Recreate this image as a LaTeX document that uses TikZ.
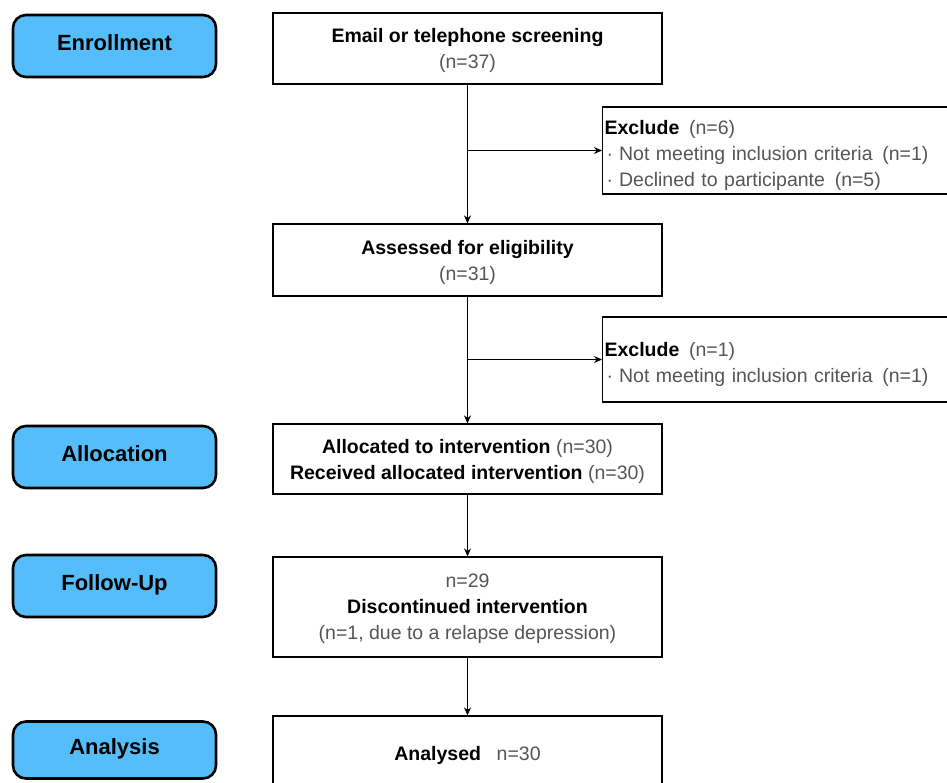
\documentclass[tikz,border=0pt]{standalone}
\usepackage{fontspec}
\setmainfont{Liberation Sans}
\usetikzlibrary{arrows.meta}
\definecolor{stageblue}{RGB}{85,190,250}
\definecolor{ngray}{RGB}{85,85,85}
\newcommand{\nval}[1]{{\color{ngray}\mdseries #1}}
\newcommand{\bul}{\hspace{2pt}·\hspace{6pt}}
\newcommand{\topstrut}{\rule{0pt}{24pt}}

\begin{document}
\begin{tikzpicture}[x=1pt,y=-1pt,
  stage/.style={draw, line width=2.6pt, rounded corners=13pt, fill=stageblue, text depth=7pt,
    minimum width=203pt, minimum height=62pt, font=\fontsize{22}{26}\selectfont\bfseries},
  box/.style={draw, line width=1.2pt, minimum width=389pt, align=center, text depth=0pt,
    font=\fontsize{19.5}{26}\selectfont\bfseries},
  excl/.style={draw, line width=1.2pt, anchor=west, minimum width=360pt, text width=356pt,
    inner xsep=1pt, align=left, text=ngray, font=\fontsize{19.5}{26}\selectfont},
  arr/.style={-{Stealth[length=8pt,width=7pt]}, line width=1.2pt}]

\useasboundingbox (0,0) rectangle (947,782);

\node[stage] (enroll) at (114.5,46) {Enrollment};
\node[stage] (alloc) at (114.5,457) {Allocation};
\node[stage] (follow) at (114.5,586) {Follow-Up};
\node[stage, minimum height=57pt] (analysis) at (114.5,750) {Analysis};

\node[box, minimum height=71pt] (screen) at (467.5,48.5) {Email or telephone screening\\\nval{(n=37)}};
\node[box, minimum height=72pt] (assess) at (467.5,260) {Assessed for eligibility\\\nval{(n=31)}};
\node[box, minimum height=70pt] (allocbox) at (467.5,459) {Allocated to intervention \nval{(n=30)}\\Received allocated intervention \nval{(n=30)}};
\node[box, minimum height=100pt] (followbox) at (467.5,607) {\nval{n=29}\\Discontinued intervention\\\nval{(n=1, due to a relapse depression)}};
\node[box, minimum height=74pt] (analysed) at (467.5,753) {Analysed\hspace{0.8em}\nval{n=30}};

\node[excl, minimum height=87pt] (excl1) at (602,150.5) {\topstrut{\color{black}\bfseries Exclude}\hspace{0.5em}(n=6)\\
  \bul Not meeting inclusion criteria\hspace{0.5em}(n=1)\\
  \bul Declined to participante\hspace{0.5em}(n=5)};
\node[excl, minimum height=85pt] (excl2) at (602,359.5) {\topstrut{\color{black}\bfseries Exclude}\hspace{0.5em}(n=1)\\
  \bul Not meeting inclusion criteria\hspace{0.5em}(n=1)};

\draw[arr] (screen) -- (assess);
\draw[arr] (screen.south |- excl1.west) -- (excl1.west);
\draw[arr] (assess) -- (allocbox);
\draw[arr] (assess.south |- excl2.west) -- (excl2.west);
\draw[arr] (allocbox) -- (followbox);
\draw[arr] (followbox) -- (analysed);

\end{tikzpicture}
\end{document}
